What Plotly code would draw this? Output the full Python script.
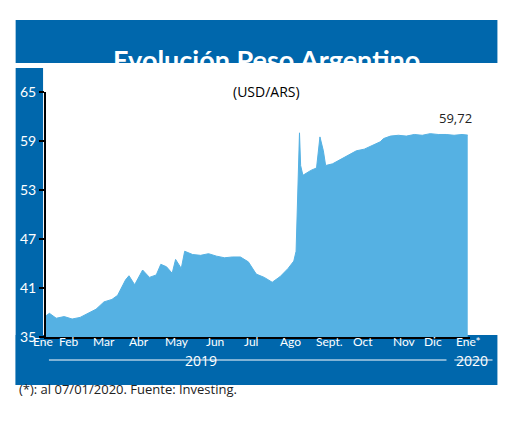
import plotly.graph_objects as go

dates = ["2019-01-01","2019-01-04","2019-01-10","2019-01-17","2019-01-24","2019-01-31","2019-02-07","2019-02-14",
         "2019-02-21","2019-02-28","2019-03-05","2019-03-12","2019-03-15","2019-03-20","2019-03-27","2019-04-02",
         "2019-04-08","2019-04-12","2019-04-17","2019-04-22","2019-04-25","2019-04-30","2019-05-03","2019-05-10",
         "2019-05-17","2019-05-24","2019-05-31","2019-06-07","2019-06-14","2019-06-21","2019-06-28","2019-07-05",
         "2019-07-12","2019-07-19","2019-07-26","2019-08-02","2019-08-07","2019-08-09","2019-08-12","2019-08-13",
         "2019-08-15","2019-08-22","2019-08-27","2019-08-29","2019-08-30","2019-09-02","2019-09-04","2019-09-10",
         "2019-09-17","2019-09-24","2019-10-01","2019-10-08","2019-10-15","2019-10-22","2019-10-25","2019-10-31",
         "2019-11-07","2019-11-14","2019-11-21","2019-11-28","2019-12-05","2019-12-12","2019-12-19","2019-12-26",
         "2020-01-02","2020-01-07"]
values = [37.6,37.9,37.3,37.5,37.2,37.4,37.9,38.4,
          39.3,39.6,40.1,42.0,42.5,41.4,43.2,42.3,
          42.6,43.9,43.6,42.8,44.5,43.4,45.5,45.1,
          45.0,45.2,44.9,44.7,44.8,44.8,44.2,42.7,
          42.3,41.7,42.4,43.4,44.3,45.5,60.0,56.0,
          54.8,55.4,55.7,58.3,59.5,57.8,56.0,56.2,
          56.7,57.3,57.8,58.0,58.4,58.9,59.3,59.6,
          59.7,59.6,59.8,59.7,59.9,59.8,59.8,59.7,
          59.8,59.72]
months = ["Ene","Feb","Mar","Abr","May","Jun","Jul","Ago","Sept.","Oct","Nov","Dic","Ene*"]
month_px = [34,60,96,132,171,210,246,287,327,361,403,432,468]
yticks = [35,41,47,53,59,65]

OFF = 8
W, H = 520, 422
L, R, T, B = 37 - OFF, 470 - OFF, 92 - OFF, 337 - OFF
def px(x): return (x - OFF - L) / (R - L)
def py(y): return (B - (y - OFF)) / (B - T)

fig = go.Figure(go.Scatter(x=dates, y=values, fill="tozeroy", mode="lines",
                           line=dict(color="#55b1e3", width=1), fillcolor="#55b1e3"))
blue = "#0067ac"
shapes = [
    dict(type="rect", xref="paper", yref="paper", x0=px(6), x1=px(498), y0=py(63), y1=py(20), fillcolor=blue, line_width=0, layer="below"),
    dict(type="rect", xref="paper", yref="paper", x0=px(6), x1=px(34), y0=py(385), y1=py(68), fillcolor=blue, line_width=0, layer="below"),
    dict(type="rect", xref="paper", yref="paper", x0=px(6), x1=px(498), y0=py(385), y1=py(335), fillcolor=blue, line_width=0, layer="below"),
    dict(type="line", xref="paper", yref="paper", x0=px(40), x1=px(446), y0=py(360), y1=py(360), line=dict(color="white", width=1)),
    dict(type="line", xref="paper", yref="paper", x0=px(454), x1=px(493), y0=py(360), y1=py(360), line=dict(color="white", width=1)),
]
ann = [
    dict(text="<b>Evolución Peso Argentino</b>", x=px(262), y=py(41), font=dict(size=27, color="white", family="Lato")),
    dict(text="(USD/ARS)", x=px(262), y=py(80), font=dict(size=14, color="black", family="Open Sans")),
    dict(text="59,72", x=px(474), y=py(107), xanchor="right", font=dict(size=13, color="#222", family="Open Sans")),
    dict(text="2019", x=px(195), y=py(372), font=dict(size=14, color="white", family="Open Sans")),
    dict(text="2020", x=px(472), y=py(372), font=dict(size=14, color="white", family="Open Sans")),
    dict(text="(*): al 07/01/2020. Fuente: Investing.", x=px(7), y=py(400), xanchor="left", font=dict(size=13, color="#222", family="Open Sans")),
]
for m, p in zip(months, month_px):
    ann.append(dict(text=m, x=px(p), y=py(351), font=dict(size=12, color="white", family="Lato")))
for a in ann:
    a.update(xref="paper", yref="paper", showarrow=False)
    a.setdefault("xanchor", "center")

fig.update_layout(width=W, height=H, margin=dict(l=L, r=W - R, t=T, b=H - B),
                  paper_bgcolor="white", plot_bgcolor="rgba(0,0,0,0)", showlegend=False,
                  shapes=shapes, annotations=ann)
fig.update_xaxes(range=["2019-01-01", "2020-01-09"], showticklabels=False, showgrid=False,
                 showline=True, linecolor="black", linewidth=2, zeroline=False, ticks="")
fig.update_yaxes(range=[35, 65], tickvals=yticks, showgrid=False, showline=True, linecolor="black",
                 linewidth=2, ticks="outside", ticklen=5, tickcolor="black", tickwidth=2,
                 tickfont=dict(size=14, color="white", family="Lato"), zeroline=False)
fig.write_html("out.html")
